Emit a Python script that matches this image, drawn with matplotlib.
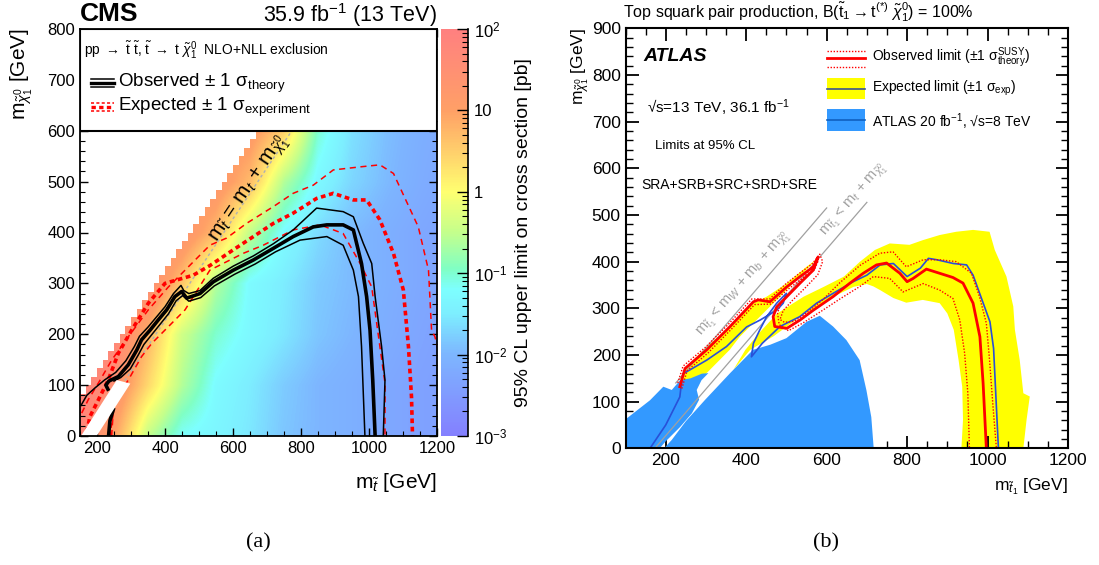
"""Two-panel stop exclusion figure: CMS cross-section map (a), ATLAS contours (b)."""

import numpy as np
import matplotlib
matplotlib.use("Agg")
import matplotlib.pyplot as plt
from matplotlib.cm import ScalarMappable
from matplotlib.colors import LinearSegmentedColormap, LogNorm, Normalize
from matplotlib.patches import Polygon, Rectangle
from matplotlib.path import Path
from matplotlib.ticker import MultipleLocator, FixedLocator

plt.rcParams["font.family"] = ["Liberation Sans", "DejaVu Sans"]
plt.rcParams["mathtext.fontset"] = "custom"
plt.rcParams["mathtext.rm"] = "Liberation Sans"
plt.rcParams["mathtext.it"] = "Liberation Sans:italic"
plt.rcParams["mathtext.bf"] = "Liberation Sans:bold"

# ---------------- CMS panel data (m_stop, m_lsp in GeV) ----------------
CMS_MSTOP = [150, 250, 350, 450, 550, 650, 750, 850, 950, 1050, 1150, 1250]
CMS_MLSP = [0, 100, 200, 300, 400, 500, 600, 700, 800]
# log10 of the 95% CL cross-section upper limit [pb]
CMS_LOG_LIMIT = [
    [1.8, 1.0, -0.5, -1.2, -1.35, -1.55, -1.85, -2.0, -2.1, -2.25, -2.35, -2.4],
    [1.9, 1.5, 0.4, -0.6, -1.25, -1.5, -1.8, -2.0, -2.1, -2.25, -2.35, -2.4],
    [1.8, 1.8, 0.8, -0.4, -1.0, -1.3, -1.55, -1.85, -2.0, -2.15, -2.3, -2.4],
    [1.6, 1.6, 1.6, 0.6, -0.6, -1.25, -1.5, -1.8, -1.95, -2.1, -2.25, -2.35],
    [1.5, 1.5, 1.5, 1.4, 0.7, -0.5, -1.25, -1.65, -1.95, -2.1, -2.25, -2.35],
    [1.3, 1.3, 1.3, 1.3, 1.3, 0.7, -0.6, -1.3, -1.7, -1.95, -2.15, -2.3],
    [1.2, 1.2, 1.2, 1.2, 1.2, 1.2, 0.5, -1.0, -1.6, -1.9, -2.1, -2.25],
    [1.2, 1.2, 1.2, 1.2, 1.2, 1.2, 1.2, 0.5, -1.0, -1.6, -1.9, -2.1],
    [1.2, 1.2, 1.2, 1.2, 1.2, 1.2, 1.2, 1.2, 0.5, -1.0, -1.6, -1.9],
]
CMS_DM_MIN = 78
CMS_BIN = 50 / 3
CMS_GAP = [(153, 0), (199, 0), (298, 103), (258, 110)]

CMS_OBS = [(232, 92), (226, 100), (235, 108), (263, 117), (292, 140), (317, 169),
           (331, 189), (356, 208), (380, 228), (405, 248), (429, 274), (449, 284),
           (464, 271), (503, 280), (542, 303), (601, 326), (660, 346), (719, 369),
           (777, 392), (836, 411), (876, 415), (924, 415), (954, 405), (978, 339),
           (993, 274), (1003, 208), (1011, 110), (1018, 0)]
CMS_OBS_LOW = [(234, 0), (238, 30), (248, 52)]
CMS_OBS_UP = [(153, 60), (170, 80), (195, 95), (222, 110), (255, 125), (285, 148),
              (310, 176), (325, 196), (350, 214), (375, 234), (400, 254), (425, 280),
              (447, 296), (455, 286), (470, 280), (503, 286), (542, 310), (601, 334),
              (660, 354), (719, 378), (777, 405), (846, 448), (924, 441), (954, 431),
              (983, 379), (1008, 339), (1018, 274), (1037, 176), (1047, 110), (1042, 0)]
CMS_OBS_DOWN = [(250, 108), (270, 115), (298, 132), (322, 160), (338, 180), (362, 200),
                (386, 220), (410, 240), (433, 266), (452, 276), (470, 265), (505, 272),
                (545, 295), (605, 318), (665, 338), (725, 362), (797, 385), (876, 392),
                (924, 375), (954, 326), (969, 274), (978, 176), (988, 0)]
CMS_EXP = [(170, 8), (179, 38), (204, 71), (233, 110), (263, 163), (302, 208),
           (351, 261), (400, 300), (483, 316), (532, 335), (601, 366), (660, 392),
           (719, 418), (777, 438), (846, 467), (895, 477), (954, 464), (993, 464),
           (1032, 425), (1072, 359), (1101, 287), (1116, 176), (1125, 77), (1128, 0)]
CMS_EXP_LOW = [(236, 0), (240, 25), (246, 48)]
CMS_EXP_UP = [(155, 45), (174, 71), (204, 104), (243, 149), (292, 195), (351, 248),
              (410, 293), (459, 326), (508, 359), (532, 375), (581, 389), (640, 418),
              (719, 451), (777, 477), (836, 493), (895, 523), (974, 529), (1032, 533),
              (1072, 516), (1145, 411), (1175, 326), (1184, 208), (1194, 195), (1210, 150)]
CMS_EXP_DOWN = [(243, 0), (247, 40), (253, 71), (292, 110), (331, 156), (361, 182),
                (410, 215), (459, 248), (532, 326), (630, 359), (689, 375), (777, 405),
                (856, 415), (924, 398), (974, 339), (1008, 293), (1032, 176),
                (1047, 104), (1047, 0)]

# ---------------- ATLAS panel data ----------------
ATLAS8_LEFT = [(100, 0), (100, 62), (161, 103), (194, 132), (215, 125), (236, 146),
               (262, 150), (290, 160), (306, 161), (289, 146), (277, 125), (283, 104),
               (265, 75), (235, 45), (200, 15), (185, 0)]
ATLAS8_MAIN = [(196, 0), (215, 18), (250, 58), (298, 104), (360, 161), (417, 211),
               (460, 222), (500, 236), (550, 271), (583, 284), (616, 261), (649, 232),
               (682, 189), (699, 124), (711, 67), (717, 0)]
EXP_BAND_STRIP = [(235, 150), (252, 175), (302, 218), (360, 261), (418, 311), (451, 325),
                  (500, 353), (550, 389), (575, 405), (533, 368), (484, 325), (434, 282),
                  (384, 239), (359, 211), (305, 164), (270, 135), (243, 139)]
EXP_BAND_SPECK = [(205, 25), (222, 40), (250, 80), (240, 82), (215, 50)]
EXP_BAND_ARCH = [(368, 168), (398, 211), (431, 246), (477, 289), (543, 325), (593, 346),
                 (643, 368), (683, 400), (720, 425), (757, 439), (806, 436), (839, 446),
                 (881, 457), (922, 464), (964, 468), (1005, 464), (1018, 425), (1047, 368),
                 (1064, 304), (1068, 254), (1080, 189), (1089, 118), (1105, 111),
                 (1097, 61), (1089, 0), (935, 0), (939, 61), (937, 132), (928, 189),
                 (916, 254), (900, 289), (881, 311), (839, 318), (798, 312), (766, 322),
                 (733, 339), (716, 347), (700, 352), (667, 346), (617, 325), (576, 303),
                 (534, 282), (468, 240), (410, 211)]
ATLAS_EXP = [(161, 0), (200, 50), (235, 110), (240, 146), (243, 160), (252, 164),
             (302, 189), (351, 218), (401, 260), (435, 275), (476, 296), (492, 311),
             (500, 332), (476, 311), (451, 282), (434, 254), (418, 225), (413, 196),
             (440, 225), (484, 261), (533, 282), (575, 311), (616, 332), (666, 357),
             (700, 371), (733, 393), (766, 396), (800, 368), (833, 386), (853, 407),
             (874, 404), (915, 396), (948, 393), (964, 371), (1006, 271), (1015, 214),
             (1023, 71), (1027, 0)]
ATLAS_OBS = [(235, 132), (248, 171), (302, 211), (360, 261), (418, 314), (430, 318),
             (459, 314), (501, 346), (534, 368), (567, 389), (579, 410), (567, 382),
             (534, 354), (501, 325), (476, 303), (467, 282), (471, 261), (501, 257),
             (534, 275), (567, 296), (616, 325), (658, 354), (691, 375), (724, 393),
             (749, 397), (782, 375), (800, 357), (815, 364), (848, 384), (881, 375),
             (914, 366), (939, 354), (964, 311), (981, 239), (989, 139), (997, 0)]
ATLAS_OBS_UP = [(230, 140), (243, 176), (298, 216), (356, 266), (414, 320), (458, 320),
                (498, 352), (531, 374), (564, 395), (583, 416), (590, 400), (578, 372),
                (548, 345), (515, 317), (492, 295), (484, 276), (495, 270), (520, 272),
                (550, 290), (590, 318), (633, 355), (683, 392), (732, 418), (765, 421),
                (798, 389), (840, 404), (881, 404), (922, 400), (960, 375), (980, 325),
                (997, 268), (1005, 189), (1013, 96), (1022, 0)]
ATLAS_OBS_DOWN = [(240, 128), (253, 166), (306, 205), (364, 256), (421, 308), (462, 309),
                  (503, 340), (536, 362), (570, 383), (578, 400), (565, 390), (540, 362),
                  (508, 333), (486, 310), (478, 290), (482, 265), (505, 252), (540, 268),
                  (580, 290), (633, 320), (683, 347), (716, 368), (757, 364), (790, 335),
                  (840, 353), (881, 339), (914, 321), (931, 275), (943, 204), (951, 118),
                  (955, 0)]
LINE_WB = [(225, 140), (600, 515)]
LINE_T = [(173, 0), (700, 527)]

CMAP = LinearSegmentedColormap.from_list("cms", [
    (0.00, "#8480FF"), (0.20, "#7DB6FF"), (0.30, "#7DEEFF"), (0.36, "#7DFFFF"),
    (0.41, "#80FFC4"), (0.50, "#C4FF8C"), (0.60, "#FFFF70"), (0.70, "#FFCF6C"),
    (0.80, "#FFA066"), (1.00, "#FF8080")])

YELLOW = "#FFFF00"
BLUE8 = "#3399FF"
RED = "#FF0000"
EXPBLUE = "#2850D8"
GREY = "#A0A0A0"


def xy(points):
    return [p[0] for p in points], [p[1] for p in points]


def staircase():
    edges = np.arange(0, 800 + CMS_BIN, CMS_BIN)
    verts = []
    for lo, hi in zip(edges[:-1], edges[1:]):
        k = np.ceil((lo + CMS_DM_MIN - 150) / CMS_BIN - 1e-6)
        x = 150 + max(k, 0) * CMS_BIN
        verts += [(x, lo), (x, hi)]
    verts += [(1200, 800), (1200, 0)]
    return Path(verts + [verts[0]], closed=True)


def draw_cms(ax, cax):
    im = ax.imshow(np.array(CMS_LOG_LIMIT), origin="lower", extent=[100, 1300, -50, 850],
                   cmap=CMAP, norm=Normalize(-3, 2), interpolation="bilinear",
                   aspect="auto", zorder=0)
    im.set_clip_path(staircase(), transform=ax.transData)
    ax.set_xlim(150, 1200)
    ax.set_ylim(0, 800)

    ax.plot(*xy(LINE_T[:1] + [(973, 800)]), color="#B0B0B0", lw=1.0, ls=(0, (2, 2)), zorder=1)

    for pts in (CMS_EXP_UP, CMS_EXP_DOWN):
        ax.plot(*xy(pts), color=RED, lw=1.1, ls=(0, (4, 3)), zorder=2)
    for pts in (CMS_EXP, CMS_EXP_LOW):
        ax.plot(*xy(pts), color=RED, lw=2.6, ls=(0, (1.3, 1.0)), zorder=2)
    for pts in (CMS_OBS_UP, CMS_OBS_DOWN):
        ax.plot(*xy(pts), color="k", lw=1.1, zorder=3)
    for pts in (CMS_OBS, CMS_OBS_LOW):
        ax.plot(*xy(pts), color="k", lw=2.6, zorder=3)

    ax.add_patch(Polygon(CMS_GAP, closed=True, facecolor="white", edgecolor="none", zorder=4))

    ax.text(650, 485, r"m$_{\tilde{t}}$ = m$_{t}$ + m$_{\tilde{\chi}^{0}_{1}}$",
            rotation=56.3, rotation_mode="anchor", ha="center", va="center",
            fontsize=15, color="k", zorder=5)

    # legend box over the top of the plane
    ax.add_patch(Rectangle((0, 0.75), 1, 0.25, transform=ax.transAxes, facecolor="white",
                           edgecolor="k", lw=1.5, zorder=6))
    ax.text(0.012, 0.948, r"pp $\rightarrow$ $\tilde{\mathrm{t}}$ $\tilde{\mathrm{t}}$, "
            r"$\tilde{\mathrm{t}}$ $\rightarrow$ t $\tilde{\chi}^{0}_{1}$  NLO+NLL exclusion",
            transform=ax.transAxes, fontsize=10, va="center", zorder=7)
    for dy, lw in ((0.0, 2.4), (0.0098, 1.1), (-0.0098, 1.1)):
        ax.plot([0.031, 0.095], [0.867 + dy] * 2, transform=ax.transAxes, color="k",
                lw=lw, zorder=7, clip_on=False)
        ax.plot([0.031, 0.095], [0.808 + dy] * 2, transform=ax.transAxes, color=RED,
                lw=lw, ls=(0, (2, 1.5)) if lw < 2 else (0, (1.3, 1.0)), zorder=7,
                clip_on=False)
    ax.text(0.106, 0.867, r"Observed ± 1 σ$_{\mathrm{theory}}$", transform=ax.transAxes,
            fontsize=13.5, va="center", zorder=7)
    ax.text(0.106, 0.808, r"Expected ± 1 σ$_{\mathrm{experiment}}$",
            transform=ax.transAxes, fontsize=13.5, va="center", zorder=7)

    ax.xaxis.set_major_locator(MultipleLocator(200))
    ax.xaxis.set_minor_locator(MultipleLocator(50))
    ax.yaxis.set_major_locator(MultipleLocator(100))
    ax.yaxis.set_minor_locator(MultipleLocator(20))
    ax.tick_params(which="both", direction="in", top=True, right=True, labelsize=12)
    ax.tick_params(which="major", length=6, width=1)
    ax.tick_params(which="minor", length=3.5, width=0.8)
    for s in ax.spines.values():
        s.set_linewidth(1.3)
        s.set_zorder(8)

    sm = ScalarMappable(norm=LogNorm(1e-3, 1e2), cmap=CMAP)
    cb = plt.colorbar(sm, cax=cax)
    cb.outline.set_visible(False)
    cax.plot([1, 1], [0, 1], transform=cax.transAxes, color="k", lw=1.2, clip_on=False)
    cax.yaxis.set_major_locator(FixedLocator([1e-3, 1e-2, 1e-1, 1, 10, 100]))
    cax.set_yticklabels([r"$10^{-3}$", r"$10^{-2}$", r"$10^{-1}$", "1", "10", r"$10^{2}$"])
    cax.tick_params(which="both", direction="in", labelsize=12, pad=4)
    cax.tick_params(which="major", length=8, width=1)
    cax.tick_params(which="minor", length=4, width=0.8)
    cax.set_ylabel("95% CL upper limit on cross section [pb]", fontsize=14, labelpad=6)


def draw_atlas(ax):
    ax.set_xlim(100, 1200)
    ax.set_ylim(0, 900)
    for pts in (EXP_BAND_ARCH, EXP_BAND_STRIP, EXP_BAND_SPECK):
        ax.add_patch(Polygon(pts, closed=True, facecolor=YELLOW, edgecolor="none", zorder=1))
    for pts in (ATLAS8_LEFT, ATLAS8_MAIN):
        ax.add_patch(Polygon(pts, closed=True, facecolor=BLUE8, edgecolor="none", zorder=2))
    for pts in (LINE_WB, LINE_T):
        ax.plot(*xy(pts), color=GREY, lw=0.9, zorder=3)
    ax.plot(*xy(ATLAS_EXP), color=EXPBLUE, lw=1.2, zorder=4)
    for pts in (ATLAS_OBS_UP, ATLAS_OBS_DOWN):
        ax.plot(*xy(pts), color=RED, lw=1.0, ls=(0, (1, 1.2)), zorder=5)
    ax.plot(*xy(ATLAS_OBS), color=RED, lw=2.0, zorder=6)

    ax.text(395, 352, r"m$_{\tilde{t}_1}$ < m$_{W}$ + m$_{b}$ + m$_{\tilde{\chi}^{0}_{1}}$",
            rotation=49.2, rotation_mode="anchor", ha="center", va="center",
            fontsize=10.5, color=GREY)
    ax.text(670, 531, r"m$_{\tilde{t}_1}$ < m$_{t}$ + m$_{\tilde{\chi}^{0}_{1}}$",
            rotation=49.2, rotation_mode="anchor", ha="center", va="center",
            fontsize=10.5, color=GREY)

    ax.text(0.040, 0.932, "ATLAS", transform=ax.transAxes, fontsize=14,
            fontweight="bold", fontstyle="italic", va="center")
    ax.text(0.049, 0.810, r"√s=13 TeV, 36.1 fb$^{-1}$", transform=ax.transAxes,
            fontsize=11, va="center")
    ax.text(0.067, 0.720, "Limits at 95% CL", transform=ax.transAxes, fontsize=9.5,
            va="center")
    ax.text(0.035, 0.627, "SRA+SRB+SRC+SRD+SRE", transform=ax.transAxes, fontsize=10,
            va="center")

    # legend
    x0, x1 = 0.455, 0.541
    ax.plot([x0, x1], [0.929] * 2, transform=ax.transAxes, color=RED, lw=2, clip_on=False)
    for yy in (0.946, 0.908):
        ax.plot([x0, x1], [yy] * 2, transform=ax.transAxes, color=RED, lw=1,
                ls=(0, (1, 1.2)), clip_on=False)
    ax.add_patch(Rectangle((x0, 0.832), x1 - x0, 0.05, transform=ax.transAxes,
                           facecolor=YELLOW, edgecolor="none"))
    ax.plot([x0, x1], [0.856] * 2, transform=ax.transAxes, color="#3A5590", lw=1.2)
    ax.add_patch(Rectangle((x0, 0.755), x1 - x0, 0.053, transform=ax.transAxes,
                           facecolor=BLUE8, edgecolor="none"))
    ax.plot([x0, x1], [0.782] * 2, transform=ax.transAxes, color="#1060C0", lw=1.2)
    ax.text(0.557, 0.929, r"Observed limit (±1 σ$^{\mathrm{SUSY}}_{\mathrm{theory}}$)",
            transform=ax.transAxes, fontsize=10, va="center")
    ax.text(0.557, 0.857, r"Expected limit (±1 σ$_{\mathrm{exp}}$)",
            transform=ax.transAxes, fontsize=10, va="center")
    ax.text(0.557, 0.778, r"ATLAS 20 fb$^{-1}$, √s=8 TeV",
            transform=ax.transAxes, fontsize=10, va="center")

    ax.xaxis.set_major_locator(MultipleLocator(200))
    ax.xaxis.set_minor_locator(MultipleLocator(50))
    ax.yaxis.set_major_locator(MultipleLocator(100))
    ax.yaxis.set_minor_locator(MultipleLocator(20))
    ax.tick_params(which="both", direction="in", top=True, right=True, labelsize=12.5)
    ax.tick_params(which="major", length=9, width=1.3)
    ax.tick_params(which="minor", length=5, width=1)
    for s in ax.spines.values():
        s.set_linewidth(1.5)
        s.set_zorder(8)


def main() -> None:
    fig = plt.figure(figsize=(10.99, 5.65), dpi=100)
    W, H = 1099, 565

    ax_c = fig.add_axes([80 / W, 1 - 436 / H, 357 / W, 407 / H])
    cax = fig.add_axes([441 / W, 1 - 436 / H, 27 / W, 407 / H])
    ax_a = fig.add_axes([625.5 / W, 1 - 448.3 / H, 442.5 / W, 420 / H])

    draw_cms(ax_c, cax)
    draw_atlas(ax_a)

    fig.text(80 / W, 1 - 14 / H, "CMS", fontsize=19, fontweight="bold", va="center")
    fig.text(437 / W, 1 - 15 / H, r"35.9 fb$^{-1}$ (13 TeV)", fontsize=15.5, ha="right",
             va="center")
    fig.text(22 / W, 1 - 28 / H, r"m$_{\tilde{\chi}^{0}_{1}}$ [GeV]", rotation=90,
             fontsize=15, ha="center", va="top")
    fig.text(437 / W, 1 - 482 / H, r"m$_{\tilde{t}}$ [GeV]", fontsize=15, ha="right",
             va="center")

    fig.text(623 / W, 1 - 12 / H,
             r"Top squark pair production, B($\tilde{\mathrm{t}}_1 \rightarrow \mathrm{t}^{(*)}\ "
             r"\tilde{\chi}^{0}_{1}$) = 100%", fontsize=11.5, va="center")
    fig.text(580 / W, 1 - 28 / H, r"m$_{\tilde{\chi}^{0}_{1}}$ [GeV]", rotation=90,
             fontsize=12.5, ha="center", va="top")
    fig.text(1068 / W, 1 - 487 / H, r"m$_{\tilde{t}_1}$ [GeV]", fontsize=12.5, ha="right",
             va="center")

    fig.text(258 / W, 1 - 543 / H, "(a)", fontsize=16, family="Liberation Serif",
             ha="center", va="center")
    fig.text(826 / W, 1 - 543 / H, "(b)", fontsize=16, family="Liberation Serif",
             ha="center", va="center")

    fig.savefig("out.png", dpi=100, facecolor="white")


if __name__ == "__main__":
    main()
